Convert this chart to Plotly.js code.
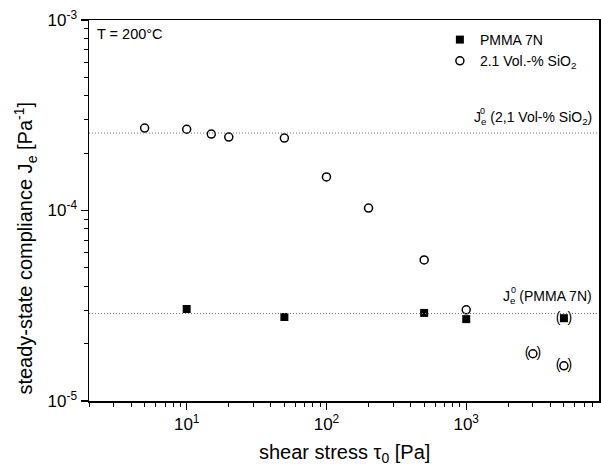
<!DOCTYPE html>
<html>
<head>
<meta charset="utf-8">
<script src="https://cdn.plot.ly/plotly-3.0.1.min.js"></script>
<style>html,body{margin:0;padding:0;background:#fff;}#chart{width:601px;height:466px;}</style>
</head>
<body>
<div id="chart"></div>
<script>
// PMMA 7N data
const pmmaStress = [10, 50, 500, 1000, 5000];
const pmmaJe = [3.04e-5, 2.76e-5, 2.90e-5, 2.69e-5, 2.72e-5];
// 2.1 Vol.-% SiO2 data
const silicaStress = [5, 10, 15, 20, 50, 100, 200, 500, 1000, 3000, 5000];
const silicaJe = [2.71e-4, 2.67e-4, 2.52e-4, 2.43e-4, 2.40e-4, 1.50e-4, 1.03e-4, 5.5e-5, 3.01e-5, 1.77e-5, 1.53e-5];
// points shown in parentheses
const bracketStress = [5000, 3000, 5000];
const bracketJe = [2.72e-5, 1.77e-5, 1.53e-5];
// plateau compliances
const je0Silica = 2.55e-4;
const je0Pmma = 2.88e-5;
// ticks
const xTickVals = [10, 100, 1000];
const xTickText = ['10<sup>1</sup>', '10<sup>2</sup>', '10<sup>3</sup>'];
const yTickVals = [1e-5, 1e-4, 1e-3];
const yTickText = ['10<sup>-5</sup>', '10<sup>-4</sup>', '10<sup>-3</sup>'];

const FONT = 'Liberation Sans, Arial, sans-serif';

const traces = [
  {x: pmmaStress, y: pmmaJe, mode: 'markers', name: 'PMMA 7N',
   marker: {symbol: 'square', size: 8, color: '#000'}},
  {x: silicaStress, y: silicaJe, mode: 'markers', name: '2.1 Vol.-% SiO<sub>2</sub>',
   marker: {symbol: 'circle-open', size: 8, color: '#000', line: {width: 1.5, color: '#000'}}},
  {x: bracketStress, y: bracketJe, mode: 'text', text: bracketStress.map(() => '(\u2002)'),
   textposition: 'middle center', textfont: {family: FONT, size: 14, color: '#000'},
   showlegend: false, hoverinfo: 'skip'}
];

const axisCommon = {
  type: 'log', showgrid: false, zeroline: false, showline: true, linecolor: '#000',
  linewidth: 1.5, mirror: true, ticks: 'outside', ticklen: 7, tickwidth: 1.2, tickcolor: '#000',
  tickmode: 'array', tickfont: {family: FONT, size: 17, color: '#000'},
  minor: {ticks: 'outside', ticklen: 4, tickwidth: 1, tickcolor: '#000', dtick: 'D1', showgrid: false}
};

const layout = {
  width: 601, height: 466,
  margin: {l: 89, r: 2, t: 20, b: 65},
  paper_bgcolor: '#fff', plot_bgcolor: '#fff',
  font: {family: FONT, color: '#000'},
  showlegend: true,
  legend: {x: 0.688, y: 0.9895, xanchor: 'left', yanchor: 'top', bgcolor: 'rgba(0,0,0,0)',
           font: {family: FONT, size: 14, color: '#000'}, tracegroupgap: 0},
  xaxis: Object.assign({}, axisCommon, {
    range: [Math.log10(2), 3.95], tickvals: xTickVals, ticktext: xTickText
  }),
  yaxis: Object.assign({}, axisCommon, {
    range: [-5, -3], tickvals: yTickVals, ticktext: yTickText
  }),
  shapes: [
    {type: 'line', xref: 'paper', x0: 0, x1: 1, yref: 'y', y0: je0Silica, y1: je0Silica,
     line: {color: '#777', width: 1, dash: '1px,2px'}},
    {type: 'line', xref: 'paper', x0: 0, x1: 1, yref: 'y', y0: je0Pmma, y1: je0Pmma,
     line: {color: '#777', width: 1, dash: '1px,2px'}}
  ],
  annotations: [
    {xref: 'paper', yref: 'paper', x: 0.5, y: -0.137, xanchor: 'center', yanchor: 'middle',
     text: 'shear stress τ<sub>0</sub> [Pa]', showarrow: false, font: {family: FONT, size: 20, color: '#000'}},
    {xref: 'paper', yref: 'paper', x: -0.124, y: 0.402, xanchor: 'center', yanchor: 'middle', textangle: -90,
     text: 'steady-state compliance J<sub>e</sub> [Pa<sup>-1</sup>]', showarrow: false, font: {family: FONT, size: 20, color: '#000'}},
    {xref: 'paper', yref: 'paper', x: 0.012, y: 0.99, xanchor: 'left', yanchor: 'top',
     text: 'T = 200°C', showarrow: false, font: {family: FONT, size: 14.5, color: '#000'}},
    {xref: 'paper', yref: 'y', x: 0.99, y: Math.log10(je0Silica), xanchor: 'right', yanchor: 'bottom', yshift: 4,
     text: 'J<sub>e</sub> (2,1 Vol-% SiO<sub>2</sub>)', showarrow: false, font: {family: FONT, size: 14, color: '#000'}},
    {xref: 'paper', yref: 'y', x: 0.99, y: Math.log10(je0Silica), xanchor: 'left', yanchor: 'bottom', yshift: 15, xshift: -116,
     text: '0', showarrow: false, font: {family: FONT, size: 9, color: '#000'}},
    {xref: 'paper', yref: 'y', x: 0.99, y: Math.log10(je0Pmma), xanchor: 'right', yanchor: 'bottom', yshift: 5,
     text: 'J<sub>e</sub> (PMMA 7N)', showarrow: false, font: {family: FONT, size: 14, color: '#000'}},
    {xref: 'paper', yref: 'y', x: 0.99, y: Math.log10(je0Pmma), xanchor: 'left', yanchor: 'bottom', yshift: 16, xshift: -85,
     text: '0', showarrow: false, font: {family: FONT, size: 9, color: '#000'}}
  ]
};

Plotly.newPlot('chart', traces, layout, {displayModeBar: false, staticPlot: true});
</script>
</body>
</html>
